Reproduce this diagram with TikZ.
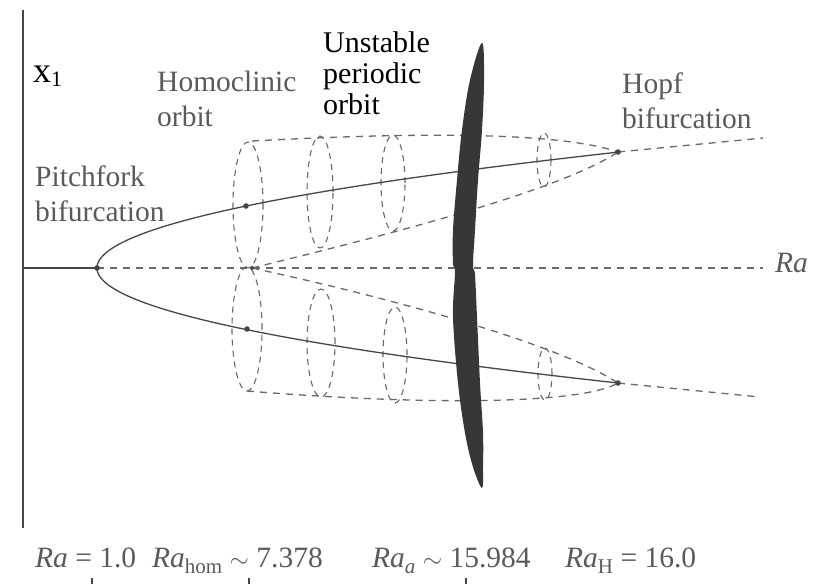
\documentclass[tikz,border=0pt]{standalone}
\usepackage{fontspec}
\setmainfont{Liberation Serif}
\usetikzlibrary{calc}
\definecolor{lineGray}{RGB}{70,70,70}
\definecolor{dashGray}{RGB}{105,105,105}
\definecolor{textGray}{RGB}{90,90,90}
\definecolor{blobDark}{RGB}{55,55,55}
\tikzset{
  branchline/.style={lineGray,line width=1.3pt},
  dashline/.style={dashGray,line width=1.3pt,dash pattern=on 7pt off 6pt},
  orbitring/.style={dashGray,line width=1.1pt,dash pattern=on 6pt off 5pt},
  graylabel/.style={inner sep=0pt,anchor=north west,align=left,text=textGray,font=\rmfamily\fontsize{29.5}{35}\selectfont},
  blacklabel/.style={inner sep=0pt,anchor=north west,align=left,text=black,font=\rmfamily\fontsize{30}{31}\selectfont},
  ralabel/.style={inner sep=0pt,anchor=base west,text=textGray,font=\rmfamily\fontsize{29.5}{32}\selectfont},
  bpoint/.style={fill=lineGray}
}
\newcommand{\rasub}[1]{\raisebox{-6pt}{\fontsize{21}{21}\selectfont #1}}

\begin{document}
\begin{tikzpicture}[x=1pt,y=-1pt]
  \useasboundingbox (0,0) rectangle (821,584);
  \coordinate (pf) at (97,268);
  \coordinate (hom) at (252,268);
  \coordinate (hopfU) at (618,152);
  \coordinate (hopfL) at (618,383);
  \coordinate (upDot) at (246,206);
  \coordinate (loDot) at (247,329);

  % axes
  \draw[lineGray,line width=1.2pt] (23,10) -- (23,528);
  \draw[branchline] (23,268) -- (pf);
  \draw[dashline] (pf) -- (763,268);

  % cones of periodic orbits
  \draw[dashline] (252,141) .. controls (420,132) and (560,132) .. (hopfU);
  \draw[dashline] (hom) .. controls (400,232) and (560,190) .. (hopfU);
  \draw[dashline] (hom) .. controls (400,300) and (560,345) .. (hopfL);
  \draw[dashline] (247,391) .. controls (420,405) and (580,405) .. (hopfL);
  \foreach \cx/\cy/\rx/\ry in {248/205/15/63, 320/192/13/56, 393/183/12/48, 544/160/7/27,
                               247/329/15/62, 321/343/14/54, 395/355/12/48, 545/374/7/26}
    \draw[orbitring] (\cx,\cy) ellipse [x radius=\rx pt, y radius=\ry pt];

  % branches
  \draw[branchline] plot[domain=0:116,samples=60] ({97+0.0388*\x*\x},{268-\x});
  \draw[branchline] plot[domain=0:115,samples=60] ({97+0.0394*\x*\x},{268+\x});
  \draw[dashline] (hopfU) -- (763,138);
  \draw[dashline] (hopfL) -- (760,397);

  \foreach \p in {pf,hopfU,hopfL,upDot,loDot}
    \fill[bpoint] (\p) circle (2.8pt);
  \fill[bpoint] (hom) circle (2pt);

  % unstable periodic orbit
  \fill[blobDark] plot[smooth cycle,tension=0.6] coordinates {
    (482,43) (484,80) (482,130) (478,180) (475,230) (473,265) (475,275)
    (477,317) (480,383) (483,433) (483,467) (482,488) (473,467) (465,433)
    (458,383) (453,317) (455,272) (453,263) (453,230) (457,180) (462,130) (470,80)};

  % labels
  \node[inner sep=0pt,anchor=base west,font=\rmfamily\fontsize{36}{36}\selectfont] (xlab) at (33,82)
    {x\raisebox{-4pt}{\fontsize{22}{22}\selectfont 1}};
  \node[graylabel] (homlab) at (157,71) {Homoclinic\\orbit};
  \node[blacklabel] (unstlab) at (323,31) {Unstable\\periodic\\orbit};
  \node[graylabel] (pflab) at (35,166) {Pitchfork\\bifurcation};
  \node[graylabel] (hopflab) at (622,73) {Hopf\\bifurcation};
  \node[ralabel] (raaxis) at (775,272) {\textit{Ra}};

  \node[ralabel] (raone) at (35,567) {\textit{Ra} = 1.0};
  \node[ralabel] (rahom) at (152,567) {\textit{Ra}\rasub{hom} $\sim$ 7.378};
  \node[ralabel] (raa) at (372,567) {\textit{Ra}\rasub{\itshape a} $\sim$ 15.984};
  \node[ralabel] (rah) at (565,567) {\textit{Ra}\rasub{H} = 16.0};
  \foreach \tx in {92,249,466}
    \draw[lineGray,line width=1.2pt] (\tx,578) -- (\tx,584);
\end{tikzpicture}
\end{document}
